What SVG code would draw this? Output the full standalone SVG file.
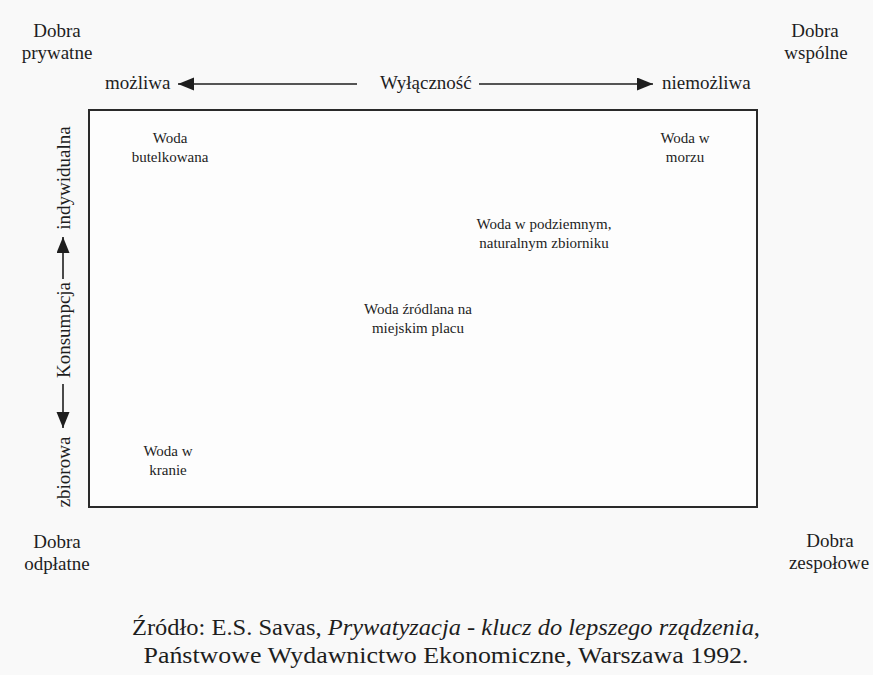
<svg xmlns="http://www.w3.org/2000/svg" width="873" height="675" viewBox="0 0 873 675" font-family="'Liberation Serif', 'DejaVu Serif', 'Times New Roman', Times, serif">
<defs>
<style>
text{font-family:"Liberation Serif","DejaVu Serif","Times New Roman",Times,serif;fill:#1e1e1e}
.lab{font-size:19px}
.in{font-size:15px;text-anchor:middle}
.mid{text-anchor:middle}
.cap{font-size:24px;text-anchor:middle}
.ln{stroke:#1e1e1e;stroke-width:1.6;fill:none}
</style>
<marker id="ah" markerUnits="userSpaceOnUse" markerWidth="18" markerHeight="14" refX="16" refY="6.5" orient="auto">
<path d="M0,0 L16,6.5 L0,13 Z" fill="#1e1e1e"/>
</marker>
</defs>
<rect width="873" height="675" fill="#f9f9f9"/>
<g id="frame">
<rect x="89" y="110" width="668" height="397" fill="#fdfdfd" stroke="#2a2a2a" stroke-width="2"/>
</g>
<g id="corners">
<text class="lab mid" x="57" y="37">Dobra</text>
<text class="lab mid" x="57" y="59">prywatne</text>
<text class="lab mid" x="815" y="37">Dobra</text>
<text class="lab mid" x="816" y="59">wspólne</text>
<text class="lab mid" x="57" y="548">Dobra</text>
<text class="lab mid" x="57" y="570">odpłatne</text>
<text class="lab mid" x="830" y="547">Dobra</text>
<text class="lab mid" x="829" y="569">zespołowe</text>
</g>
<g id="axis-x">
<text class="lab" x="105" y="89">możliwa</text>
<text class="lab" x="380" y="89">Wyłączność</text>
<text class="lab" x="662" y="89">niemożliwa</text>
</g>
<g id="axis-y">
<text class="lab mid" transform="translate(70,178) rotate(-90)">indywidualna</text>
<text class="lab mid" transform="translate(70,330) rotate(-90)">Konsumpcja</text>
<text class="lab mid" transform="translate(70,472) rotate(-90)">zbiorowa</text>
</g>
<g id="connectors">
<line class="ln" x1="357" y1="84" x2="178" y2="84" marker-end="url(#ah)"/>
<line class="ln" x1="479" y1="84" x2="653" y2="84" marker-end="url(#ah)"/>
<line class="ln" x1="63" y1="279" x2="63" y2="237" marker-end="url(#ah)"/>
<line class="ln" x1="63" y1="384" x2="63" y2="428" marker-end="url(#ah)"/>
</g>
<g id="n-butelkowana">
<text class="in" x="170" y="143">Woda</text>
<text class="in" x="170" y="162">butelkowana</text>
</g>
<g id="n-morze">
<text class="in" x="685" y="143">Woda w</text>
<text class="in" x="685" y="162">morzu</text>
</g>
<g id="n-podziemny">
<text class="in" x="544" y="229">Woda w podziemnym,</text>
<text class="in" x="544" y="248">naturalnym zbiorniku</text>
</g>
<g id="n-zrodlana">
<text class="in" x="418" y="314">Woda źródlana na</text>
<text class="in" x="418" y="333">miejskim placu</text>
</g>
<g id="n-kran">
<text class="in" x="168" y="456">Woda w</text>
<text class="in" x="168" y="475">kranie</text>
</g>
<g id="caption">
<text class="cap" x="446" y="635" textLength="628" lengthAdjust="spacingAndGlyphs">Źródło: E.S. Savas, <tspan font-style="italic">Prywatyzacja - klucz do lepszego rządzenia</tspan>,</text>
<text class="cap" x="446" y="663" textLength="605" lengthAdjust="spacingAndGlyphs">Państwowe Wydawnictwo Ekonomiczne, Warszawa 1992.</text>
</g>
</svg>
